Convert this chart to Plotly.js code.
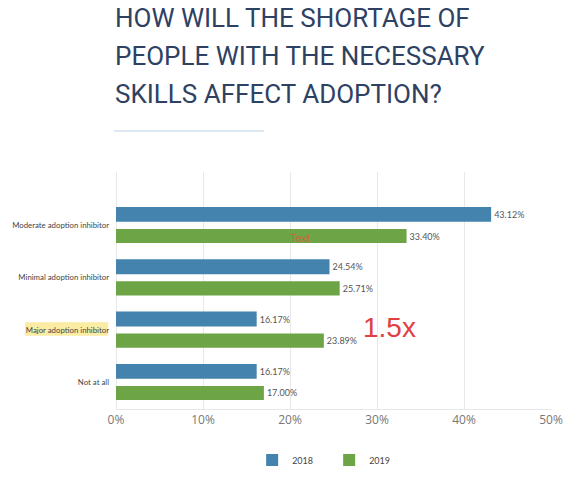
<!DOCTYPE html>
<html>
<head>
<meta charset="utf-8">
<script src="https://cdn.plot.ly/plotly-3.0.1.min.js"></script>
<style>html,body{margin:0;padding:0;background:#fff;}#chart{width:576px;height:479px;}</style>
</head>
<body>
<div id="chart"></div>
<script>
const categories = ["Moderate adoption inhibitor", "Minimal adoption inhibitor", "Major adoption inhibitor", "Not at all"];
const values2018 = [43.12, 24.54, 16.17, 16.17];
const values2019 = [33.40, 25.71, 23.89, 17.00];
const seriesNames = ["2018", "2019"];
const titleLines = ["HOW WILL THE SHORTAGE OF", "PEOPLE WITH THE NECESSARY", "SKILLS AFFECT ADOPTION?"];
const xTicks = [0, 10, 20, 30, 40, 50];
const xTickText = ["0%", "10%", "20%", "30%", "40%", "50%"];

const fmt = v => v.toFixed(2) + "%";
const labelFont = {family: "Lato, 'Open Sans', sans-serif", size: 9, color: "#555"};

const traces = [
  {
    type: "bar", orientation: "h", name: seriesNames[0],
    y: categories, x: values2018,
    width: 0.285, offset: -0.352,
    marker: {color: "#4383ae"},
    text: values2018.map(fmt), textposition: "outside",
    textfont: labelFont, cliponaxis: false, hoverinfo: "x+y"
  },
  {
    type: "bar", orientation: "h", name: seriesNames[1],
    y: categories, x: values2019,
    width: 0.27, offset: 0.069,
    marker: {color: "#6da546"},
    text: values2019.map(fmt), textposition: "outside",
    textfont: labelFont, cliponaxis: false, hoverinfo: "x+y"
  }
];

const titleFont = {family: "'Liberation Sans Narrow', 'Roboto', sans-serif", size: 26, color: "#2e4163"};
const titleY = [35, 73, 111];
const annotations = titleLines.map((t, i) => ({
  text: t, xref: "paper", yref: "paper",
  x: -0.006, y: (409 - titleY[i]) / 237,
  xanchor: "left", yanchor: "bottom", showarrow: false,
  font: titleFont
}));
annotations.push({
  text: "Text", xref: "x", yref: "y", x: 21.1, y: 0.24,
  showarrow: false, font: {family: "Liberation Sans, Arial, sans-serif", size: 11, color: "#d0643e"}
});
annotations.push({
  text: "1.5x", xref: "x", yref: "y", x: 31.4, y: 1.96,
  showarrow: false, font: {family: "Liberation Sans, Arial, sans-serif", size: 28, color: "#e0403f"}
});

const layout = {
  width: 576, height: 479,
  margin: {l: 116, r: 25, t: 172, b: 70},
  paper_bgcolor: "#fff", plot_bgcolor: "#fff",
  barmode: "group",
  showlegend: true,
  legend: {
    orientation: "h", xref: "paper", x: 0.49, xanchor: "center",
    yref: "container", y: 19 / 479, yanchor: "middle",
    font: {family: "Lato, 'Open Sans', sans-serif", size: 9, color: "#444"},
    entrywidth: 32, entrywidthmode: "pixels", traceorder: "normal"
  },
  xaxis: {
    range: [0, 50], tickmode: "array", tickvals: xTicks, ticktext: xTickText,
    showgrid: true, gridcolor: "#e8e8e8", gridwidth: 1,
    zeroline: true, zerolinecolor: "#e8e8e8",
    showline: true, linecolor: "#e8e8e8", linewidth: 1,
    ticks: "", ticklen: 0,
    tickfont: {family: "'Open Sans', Lato, sans-serif", size: 12, color: "#777"},
    automargin: false, fixedrange: true
  },
  yaxis: {
    type: "category", categoryorder: "array", categoryarray: categories,
    range: [3.51, -1.02],
    showgrid: false, zeroline: false, showline: false,
    ticks: "", ticklabelstandoff: 6,
    tickfont: {family: "Lato, 'Open Sans', sans-serif", size: 7.8, color: "#444"},
    automargin: false, fixedrange: true
  },
  shapes: [
    {type: "line", xref: "paper", yref: "paper", x0: -0.005, x1: 0.34, y0: (409 - 131) / 237, y1: (409 - 131) / 237,
     line: {color: "#bcd1e4", width: 1}},
    {type: "rect", xref: "paper", yref: "y", x0: -0.209, x1: -0.018, y0: 1.85, y1: 2.11,
     fillcolor: "rgba(247,220,90,0.55)", line: {width: 0}, layer: "below"}
  ],
  annotations: annotations
};

Plotly.newPlot("chart", traces, layout, {displayModeBar: false, staticPlot: true});
</script>
</body>
</html>
